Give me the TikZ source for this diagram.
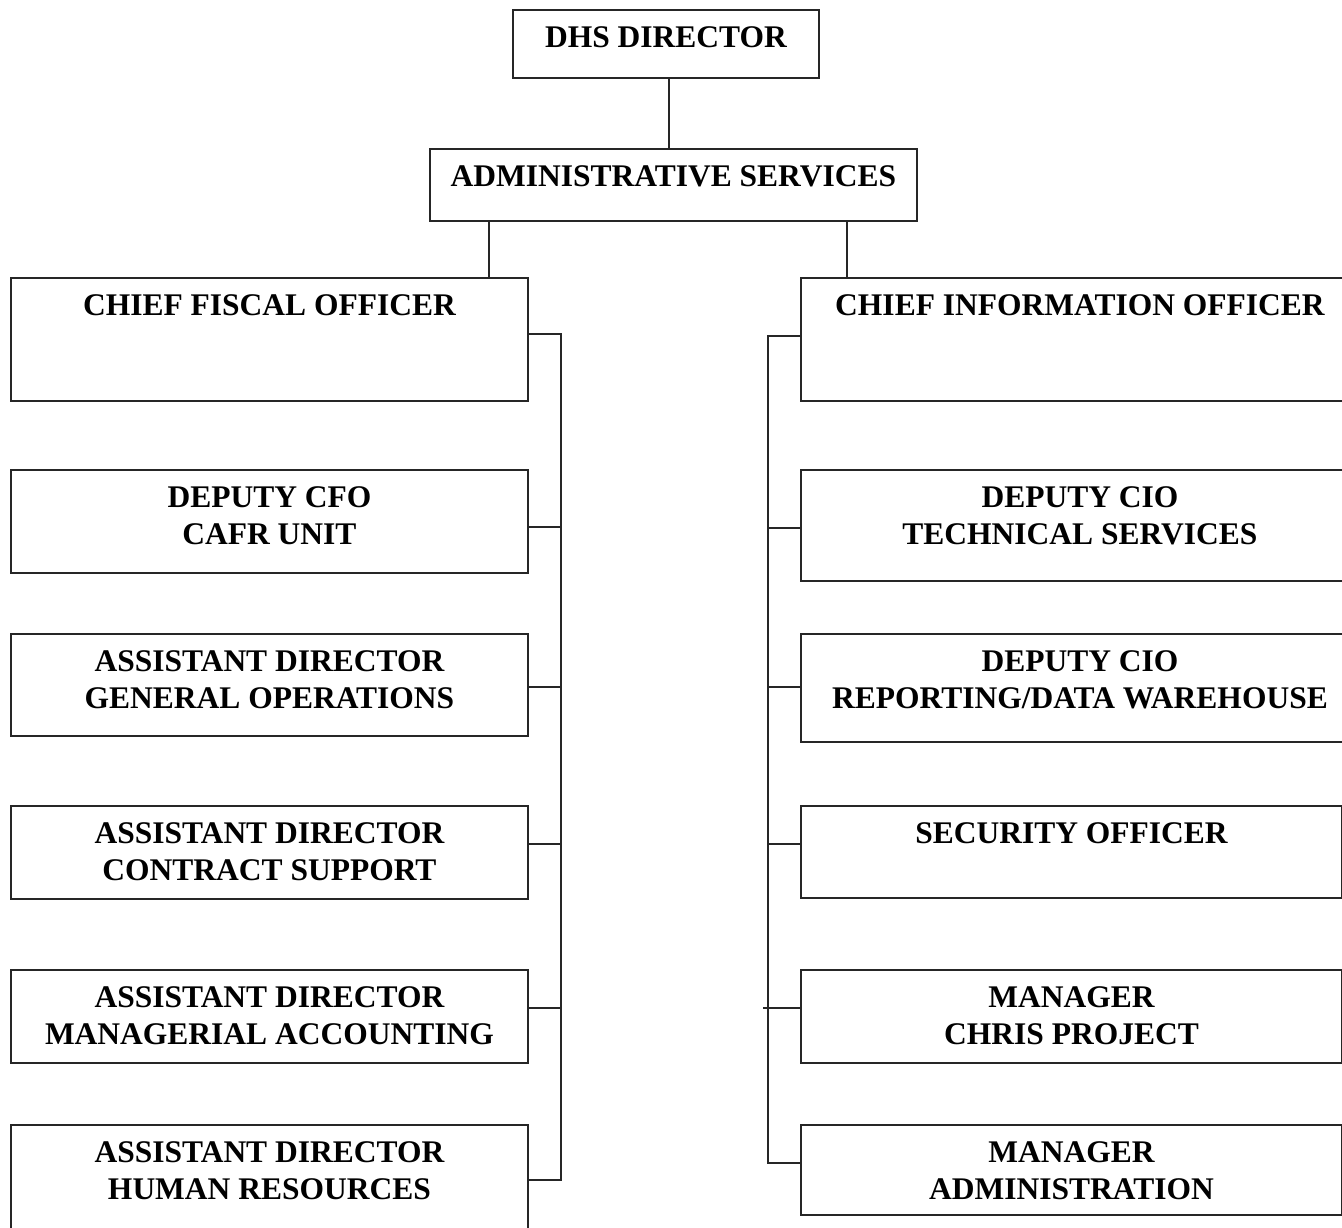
\documentclass[tikz,border=0pt]{standalone}
\usepackage{fontspec}
\setmainfont{Liberation Serif}
\begin{document}
\begin{tikzpicture}[x=1pt,y=-1pt,
  box/.style={draw=black!85, line width=1.9pt, rectangle, inner sep=0pt, anchor=north west},
  boxtxt/.style={anchor=north, inner sep=0pt, yshift=-17pt, align=center, font=\bfseries\fontsize{31.5}{37.5}\selectfont, text=black},
  conn/.style={draw=black!85, line width=1.9pt}]
\useasboundingbox (0,0) rectangle (1342,1228);
\clip (0,0) rectangle (1342,1228);
\fill[white] (0,0) rectangle (1342,1228);

% top
\node[box, minimum width=306pt, minimum height=68pt, label={[boxtxt]north:{DHS DIRECTOR}}] (dhs) at (512,9) {};
\node[box, minimum width=487pt, minimum height=72pt, label={[boxtxt]north:{ADMINISTRATIVE SERVICES}}] (adm) at (429,148) {};

% left column
\node[box, minimum width=517pt, minimum height=123pt, label={[boxtxt]north:{CHIEF FISCAL OFFICER}}] (cfo) at (10,277) {};
\node[box, minimum width=517pt, minimum height=103pt, label={[boxtxt]north:{DEPUTY CFO\\CAFR UNIT}}] (dcfo) at (10,469) {};
\node[box, minimum width=517pt, minimum height=102pt, label={[boxtxt]north:{ASSISTANT DIRECTOR\\GENERAL OPERATIONS}}] (adgo) at (10,633) {};
\node[box, minimum width=517pt, minimum height=93pt, label={[boxtxt]north:{ASSISTANT DIRECTOR\\CONTRACT SUPPORT}}] (adcs) at (10,805) {};
\node[box, minimum width=517pt, minimum height=93pt, label={[boxtxt]north:{ASSISTANT DIRECTOR\\MANAGERIAL ACCOUNTING}}] (adma) at (10,969) {};
\node[box, minimum width=517pt, minimum height=120pt, label={[boxtxt]north:{ASSISTANT DIRECTOR\\HUMAN RESOURCES}}] (adhr) at (10,1124) {};

% right column
\node[box, minimum width=558pt, minimum height=123pt, label={[boxtxt]north:{CHIEF INFORMATION OFFICER}}] (cio) at (800,277) {};
\node[box, minimum width=558pt, minimum height=111pt, label={[boxtxt]north:{DEPUTY CIO\\TECHNICAL SERVICES}}] (dcio) at (800,469) {};
\node[box, minimum width=558pt, minimum height=108pt, label={[boxtxt]north:{DEPUTY CIO\\REPORTING/DATA WAREHOUSE}}] (dcior) at (800,633) {};
\node[box, minimum width=541pt, minimum height=92pt, label={[boxtxt]north:{SECURITY OFFICER}}] (sec) at (800,805) {};
\node[box, minimum width=541pt, minimum height=93pt, label={[boxtxt]north:{MANAGER\\CHRIS PROJECT}}] (mgrc) at (800,969) {};
\node[box, minimum width=541pt, minimum height=90pt, label={[boxtxt]north:{MANAGER\\ADMINISTRATION}}] (mgra) at (800,1124) {};

% top connectors
\draw[conn] ([xshift=3pt]dhs.south) -- ++(0,71);
\draw[conn] ([xshift=60pt]adm.south west) -- ++(0,57);
\draw[conn] ([xshift=-71pt]adm.south east) -- ++(0,57);

% left bus
\coordinate (lbx) at (561,0);
\draw[conn] ([yshift=-57pt]cfo.north east) -| ([yshift=-56pt]adhr.north east -| lbx) -- ([yshift=-56pt]adhr.north east);
\draw[conn] ([yshift=-58pt]dcfo.north east) -- ++(32.5,0);
\draw[conn] ([yshift=-54pt]adgo.north east) -- ++(32.5,0);
\draw[conn] ([yshift=-39pt]adcs.north east) -- ++(32.5,0);
\draw[conn] ([yshift=-39pt]adma.north east) -- ++(32.5,0);

% right bus
\coordinate (rbx) at (768,0);
\draw[conn] ([yshift=-59pt]cio.north west) -| ([yshift=-39pt]mgra.north west -| rbx) -- ([yshift=-39pt]mgra.north west);
\draw[conn] ([yshift=-59pt]dcio.north west) -- ++(-32.5,0);
\draw[conn] ([yshift=-54pt]dcior.north west) -- ++(-32.5,0);
\draw[conn] ([yshift=-39pt]sec.north west) -- ++(-32.5,0);
\draw[conn] ([yshift=-39pt]mgrc.north west) -- ++(-37,0);
\end{tikzpicture}
\end{document}
